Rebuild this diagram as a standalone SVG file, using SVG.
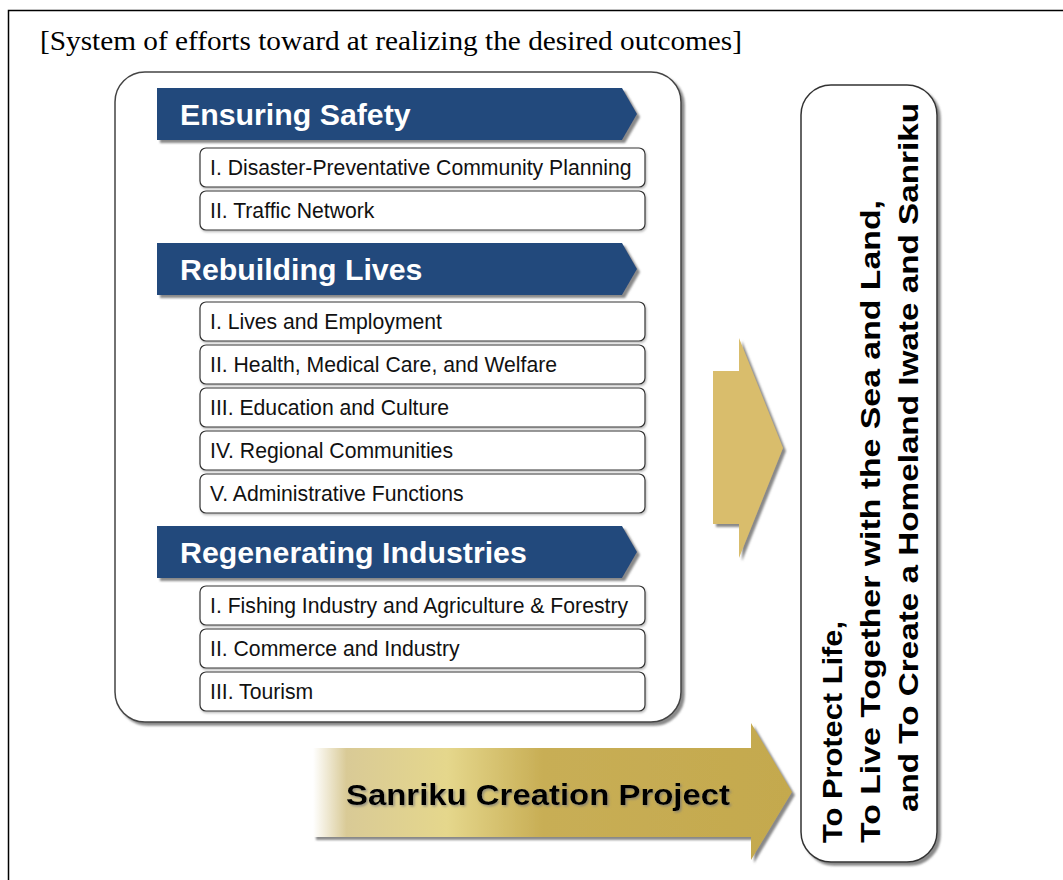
<svg xmlns="http://www.w3.org/2000/svg" width="1063" height="880" viewBox="0 0 1063 880">
<defs>
<filter id="sh" x="-10%" y="-10%" width="130%" height="130%">
<feDropShadow dx="3" dy="3" stdDeviation="1.2" flood-color="#6b6b6b" flood-opacity="0.8"/>
</filter>
<filter id="shs" x="-10%" y="-10%" width="130%" height="130%">
<feDropShadow dx="1" dy="1.5" stdDeviation="0.8" flood-color="#888" flood-opacity="0.6"/>
</filter>
<filter id="tsh" x="-5%" y="-20%" width="110%" height="140%">
<feDropShadow dx="1.5" dy="1.5" stdDeviation="1" flood-color="#777" flood-opacity="0.7"/>
</filter>
<linearGradient id="gold" x1="313" y1="0" x2="792" y2="0" gradientUnits="userSpaceOnUse">
<stop offset="0" stop-color="#ffffff"/>
<stop offset="0.07" stop-color="#d9ca96"/>
<stop offset="0.28" stop-color="#e5d78c"/>
<stop offset="0.48" stop-color="#c8ae55"/>
<stop offset="1" stop-color="#c4a94e"/>
</linearGradient>
<style>
.banner{fill:#214a7c;filter:url(#sh)}
.btxt{font-family:"Liberation Sans",Arial,sans-serif;font-weight:bold;font-size:30.3px;fill:#ffffff}
.item{fill:#ffffff;stroke:#333333;stroke-width:1.2;filter:url(#shs)}
.itxt{font-family:"Liberation Sans",Arial,sans-serif;font-size:21.2px;fill:#111111}
.vtxt{font-family:"Liberation Sans",Arial,sans-serif;font-weight:bold;font-size:28px;fill:#000000}
</style>
</defs>
<rect x="0" y="0" width="1063" height="880" fill="#ffffff"/>
<rect id="frame" x="8.5" y="10.5" width="1070" height="890" fill="none" stroke="#000000" stroke-width="1.5"/>
<text x="40" y="50" font-family="'Liberation Serif','Times New Roman',serif" font-size="27" fill="#000000" textLength="702" lengthAdjust="spacingAndGlyphs">[System of efforts toward at realizing the desired outcomes]</text>

<g id="main-box">
<rect x="115" y="72" width="566" height="650" rx="30" ry="30" fill="#ffffff" stroke="#444444" stroke-width="1.5" filter="url(#sh)"/>
</g>

<g id="ensuring-safety">
<polygon class="banner" points="157,88 622,88 637,114 622,140 157,140"/>
<text class="btxt" x="180" y="125">Ensuring Safety</text>
</g>
<g id="es-1"><rect class="item" x="200" y="148" width="445" height="39" rx="6"/><text class="itxt" x="210" y="175">I. Disaster-Preventative Community Planning</text></g>
<g id="es-2"><rect class="item" x="200" y="191" width="445" height="39" rx="6"/><text class="itxt" x="210" y="218">II. Traffic Network</text></g>

<g id="rebuilding-lives">
<polygon class="banner" points="157,243 622,243 637,269 622,295 157,295"/>
<text class="btxt" x="180" y="280">Rebuilding Lives</text>
</g>
<g id="rl-1"><rect class="item" x="200" y="302" width="445" height="39" rx="6"/><text class="itxt" x="210" y="329">I. Lives and Employment</text></g>
<g id="rl-2"><rect class="item" x="200" y="345" width="445" height="39" rx="6"/><text class="itxt" x="210" y="372">II. Health, Medical Care, and Welfare</text></g>
<g id="rl-3"><rect class="item" x="200" y="388" width="445" height="39" rx="6"/><text class="itxt" x="210" y="415">III. Education and Culture</text></g>
<g id="rl-4"><rect class="item" x="200" y="431" width="445" height="39" rx="6"/><text class="itxt" x="210" y="458">IV. Regional Communities</text></g>
<g id="rl-5"><rect class="item" x="200" y="474" width="445" height="39" rx="6"/><text class="itxt" x="210" y="501">V. Administrative Functions</text></g>

<g id="regenerating-industries">
<polygon class="banner" points="157,526 622,526 637,552 622,578 157,578"/>
<text class="btxt" x="180" y="563">Regenerating Industries</text>
</g>
<g id="ri-1"><rect class="item" x="200" y="586" width="445" height="39" rx="6"/><text class="itxt" x="210" y="613">I. Fishing Industry and Agriculture &amp; Forestry</text></g>
<g id="ri-2"><rect class="item" x="200" y="629" width="445" height="39" rx="6"/><text class="itxt" x="210" y="656">II. Commerce and Industry</text></g>
<g id="ri-3"><rect class="item" x="200" y="672" width="445" height="39" rx="6"/><text class="itxt" x="210" y="699">III. Tourism</text></g>

<g id="connectors">
<polygon points="713,371 739,371 739,338 783,448 739,558 739,524 713,524" fill="#d9bd6c" filter="url(#sh)"/>
<polygon points="313,748 751,748 751,723 792,792 751,860 751,837 313,837" fill="url(#gold)" filter="url(#sh)"/>
</g>

<g id="sanriku-creation-project">
<text x="346" y="805" font-family="'Liberation Sans',Arial,sans-serif" font-weight="bold" font-size="30" fill="#000000" filter="url(#tsh)" textLength="384" lengthAdjust="spacingAndGlyphs">Sanriku Creation Project</text>
</g>

<g id="goal">
<rect x="801" y="85" width="136" height="777" rx="30" ry="30" fill="#ffffff" stroke="#333333" stroke-width="1.5" filter="url(#sh)"/>
<g transform="rotate(-90)">
<text class="vtxt" x="-843" y="842" textLength="222" lengthAdjust="spacingAndGlyphs">To Protect Life,</text>
<text class="vtxt" x="-843" y="880" textLength="643" lengthAdjust="spacingAndGlyphs">To Live Together with the Sea and Land,</text>
<text class="vtxt" x="-812" y="918" textLength="709" lengthAdjust="spacingAndGlyphs">and To Create a Homeland Iwate and Sanriku</text>
</g>
</g>
</svg>
